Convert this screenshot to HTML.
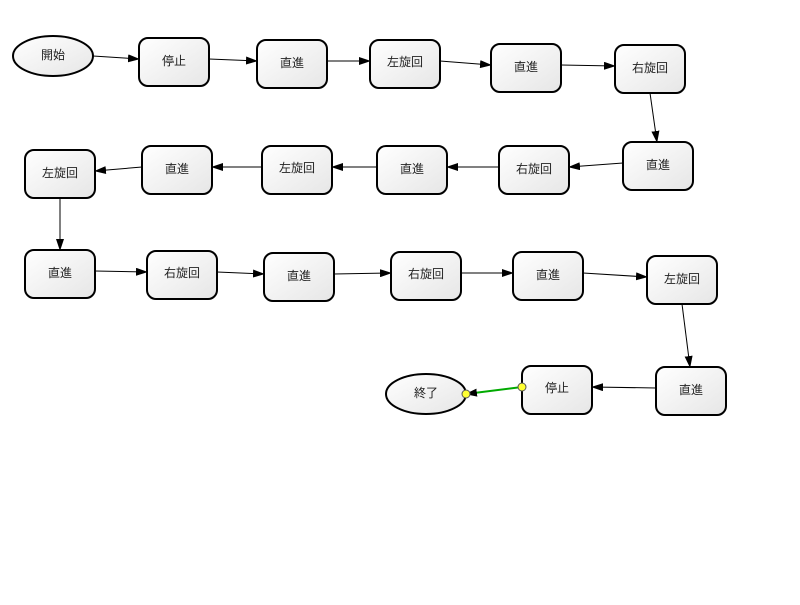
<!DOCTYPE html>
<html><head><meta charset="utf-8"><style>
body{margin:0;background:#fff;width:800px;height:600px;overflow:hidden}
text{font-family:"Liberation Sans","Noto Sans CJK JP",sans-serif;font-size:12px;fill:#222;text-anchor:middle;dominant-baseline:central}
</style></head><body>
<svg width="800" height="600" xmlns="http://www.w3.org/2000/svg">
<defs>
<linearGradient id="g" x1="0" y1="0" x2="1" y2="1"><stop offset="0" stop-color="#fff"/><stop offset="1" stop-color="#e6e6e6"/></linearGradient>
<marker id="a" markerWidth="12" markerHeight="8" refX="11" refY="4" orient="auto" markerUnits="userSpaceOnUse"><path d="M0,0L12,4L0,8z" fill="#000"/></marker>
</defs>
<g stroke="#000" stroke-width="1" marker-end="url(#a)">
<line x1="93" y1="56" x2="139" y2="59"/>
<line x1="209" y1="59" x2="257" y2="61"/>
<line x1="327" y1="61" x2="370" y2="61"/>
<line x1="440" y1="61" x2="491" y2="65"/>
<line x1="561" y1="65" x2="615" y2="66"/>
<line x1="650" y1="93" x2="657" y2="142"/>
<line x1="623" y1="163" x2="569" y2="167"/>
<line x1="499" y1="167" x2="447" y2="167"/>
<line x1="377" y1="167" x2="332" y2="167"/>
<line x1="262" y1="167" x2="212" y2="167"/>
<line x1="142" y1="167" x2="95" y2="171"/>
<line x1="60" y1="198" x2="60" y2="250"/>
<line x1="95" y1="271" x2="147" y2="272"/>
<line x1="217" y1="272" x2="264" y2="274"/>
<line x1="334" y1="274" x2="391" y2="273"/>
<line x1="461" y1="273" x2="513" y2="273"/>
<line x1="583" y1="273" x2="647" y2="277"/>
<line x1="682" y1="304" x2="690" y2="367"/>
<line x1="656" y1="388" x2="592" y2="387"/>
</g>
<line x1="522" y1="387" x2="466" y2="394" stroke="#00aa00" stroke-width="2" marker-end="url(#a)"/>
<g stroke="#000" stroke-width="2" fill="url(#g)">
<ellipse cx="53" cy="56" rx="40" ry="20"/>
<ellipse cx="426" cy="394" rx="40" ry="20"/>
<rect x="139" y="38" width="70" height="48" rx="9"/>
<rect x="257" y="40" width="70" height="48" rx="9"/>
<rect x="370" y="40" width="70" height="48" rx="9"/>
<rect x="491" y="44" width="70" height="48" rx="9"/>
<rect x="615" y="45" width="70" height="48" rx="9"/>
<rect x="623" y="142" width="70" height="48" rx="9"/>
<rect x="499" y="146" width="70" height="48" rx="9"/>
<rect x="377" y="146" width="70" height="48" rx="9"/>
<rect x="262" y="146" width="70" height="48" rx="9"/>
<rect x="142" y="146" width="70" height="48" rx="9"/>
<rect x="25" y="150" width="70" height="48" rx="9"/>
<rect x="25" y="250" width="70" height="48" rx="9"/>
<rect x="147" y="251" width="70" height="48" rx="9"/>
<rect x="264" y="253" width="70" height="48" rx="9"/>
<rect x="391" y="252" width="70" height="48" rx="9"/>
<rect x="513" y="252" width="70" height="48" rx="9"/>
<rect x="647" y="256" width="70" height="48" rx="9"/>
<rect x="656" y="367" width="70" height="48" rx="9"/>
<rect x="522" y="366" width="70" height="48" rx="9"/>
</g>
<g stroke="#555" stroke-width="1" fill="#ffff33">
<circle cx="522" cy="387" r="4"/><circle cx="466" cy="394" r="4"/>
</g>
<text x="53" y="55">開始</text>
<text x="426" y="393">終了</text>
<text x="174" y="61">停止</text>
<text x="292" y="63">直進</text>
<text x="405" y="62">左旋回</text>
<text x="526" y="67">直進</text>
<text x="650" y="68">右旋回</text>
<text x="658" y="165">直進</text>
<text x="534" y="169">右旋回</text>
<text x="412" y="169">直進</text>
<text x="297" y="168">左旋回</text>
<text x="177" y="169">直進</text>
<text x="60" y="173">左旋回</text>
<text x="60" y="273">直進</text>
<text x="182" y="273">右旋回</text>
<text x="299" y="276">直進</text>
<text x="426" y="274">右旋回</text>
<text x="548" y="275">直進</text>
<text x="682" y="279">左旋回</text>
<text x="691" y="390">直進</text>
<text x="557" y="388">停止</text>
</svg>
</body></html>
